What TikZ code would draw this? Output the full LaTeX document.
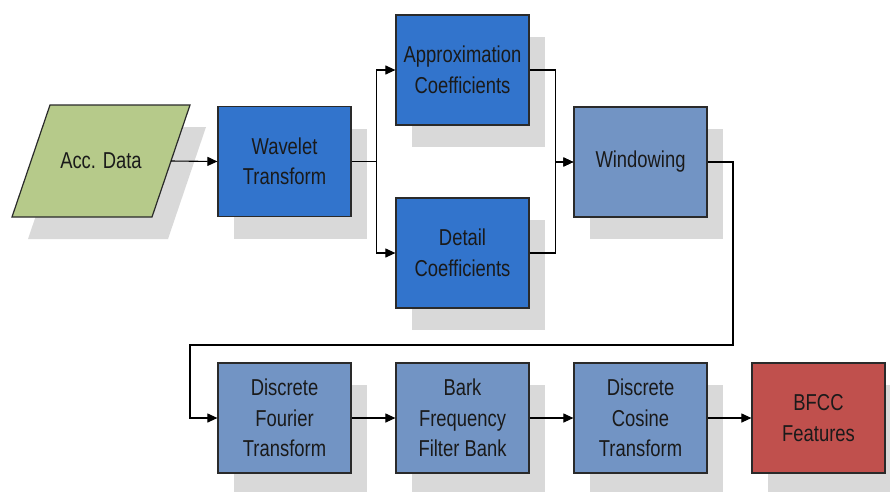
\documentclass[tikz,border=0pt]{standalone}
\usepackage{fontspec}
\setmainfont{Liberation Sans}[FakeStretch=0.8]
\usetikzlibrary{arrows.meta,shadows}
\definecolor{dblue}{HTML}{3274CC}
\definecolor{lblue}{HTML}{7294C4}
\definecolor{lgreen}{HTML}{B6CA8A}
\definecolor{bred}{HTML}{C0504D}
\definecolor{shad}{HTML}{D9D9D9}
\definecolor{edge}{HTML}{2A2A2A}
\definecolor{txt}{HTML}{1A1A1A}
\tikzset{
  shd/.style={drop shadow={shadow xshift=16pt,shadow yshift=-22pt,fill=shad,opacity=1}},
  lbl/.style={text=txt,font=\fontsize{23pt}{30.5pt}\selectfont},
  blk/.style={draw=edge,line width=1.2pt,minimum width=133pt,minimum height=110pt,inner sep=0pt,
    align=center,lbl,shd},
  dk/.style={blk,fill=dblue},
  lt/.style={blk,fill=lblue},
  rd/.style={blk,fill=bred},
  conn/.style={draw=black,line width=1.1pt},
  arr/.style={conn,-{Triangle[length=10pt,width=9pt]}}
}
\begin{document}
\begin{tikzpicture}[x=1pt,y=-1pt]
\useasboundingbox (0,0) rectangle (890,491);
% input parallelogram
\filldraw[fill=lgreen,draw=edge,line width=1.2pt,shd] (50,105) -- (190,105) -- (152,217) -- (12,217) -- cycle;
\node[lbl] (acc) at (101,161) {Acc. Data};
\coordinate (accR) at (171,161);
% top blocks
\node[dk] (wav) at (284.5,161.5) {Wavelet\\Transform};
\node[dk] (apx) at (462.5,70) {Approximation\\Coefficients};
\node[dk] (det) at (462.5,253) {Detail\\Coefficients};
\node[lt] (win) at (640.5,162) {Windowing};
% bottom blocks
\node[lt] (dft) at (284.5,418) {Discrete\\Fourier\\Transform};
\node[lt] (bark) at (462.5,418) {Bark\\Frequency\\Filter Bank};
\node[lt] (dct) at (640.5,418) {Discrete\\Cosine\\Transform};
\node[rd] (bfcc) at (818.5,418) {BFCC\\Features};
% connectors
\coordinate (c1) at (733,345);
\coordinate (c2) at (190,345);
\draw[arr] (accR) -- (wav.west);
\draw[arr] (wav.east) -- ++(25,0) |- (apx.west);
\draw[arr] (wav.east) -- ++(25,0) |- (det.west);
\draw[arr] (apx.east) -- ++(26,0) |- (win.west);
\draw[arr] (det.east) -- ++(26,0) |- (win.west);
\draw[arr] (win.east) -| (c1) -- (c2) |- (dft.west);
\draw[arr] (dft) -- (bark);
\draw[arr] (bark) -- (dct);
\draw[arr] (dct) -- (bfcc);
\end{tikzpicture}
\end{document}
